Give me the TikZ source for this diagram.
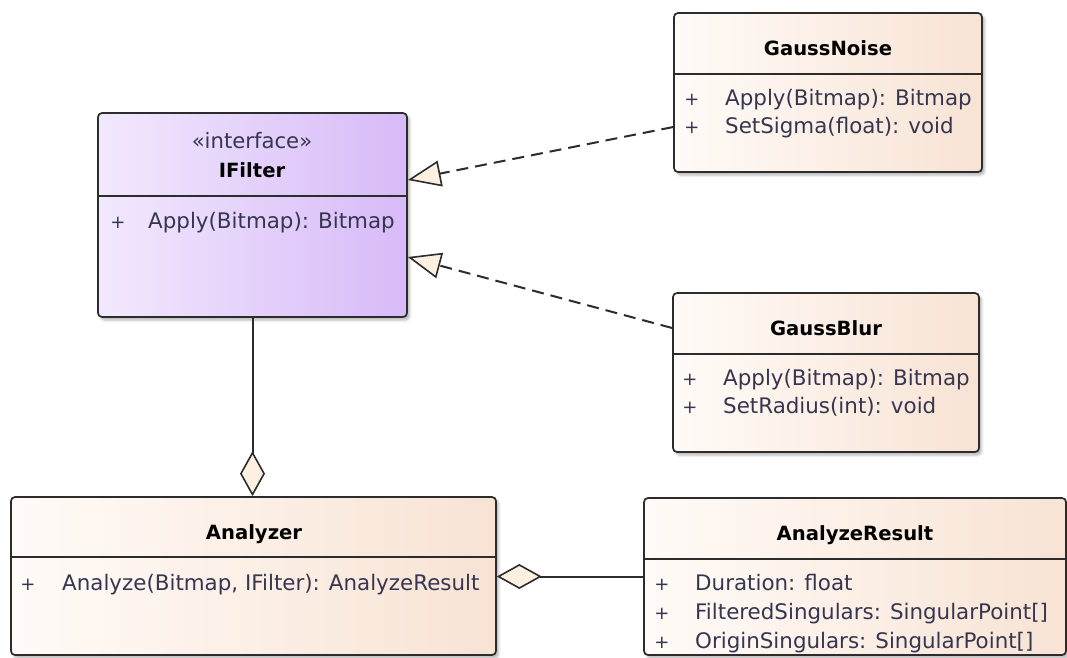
\documentclass[tikz,border=0pt]{standalone}
\usepackage{fontspec}
\setmainfont{DejaVu Sans}
\usetikzlibrary{arrows.meta,shadows.blur}

\definecolor{classL}{HTML}{FFFBF8}
\definecolor{classR}{HTML}{F8E3D4}
\definecolor{ifaceL}{HTML}{F2E9FD}
\definecolor{ifaceR}{HTML}{D7BAF8}
\definecolor{tipfill}{HTML}{FCF1E1}
\definecolor{edge}{HTML}{2C2C2C}
\definecolor{member}{HTML}{363650}

\tikzset{
  classbox/.style={draw=edge, line width=1.7pt, rounded corners=4pt, inner sep=0pt,
    left color=classL, right color=classR,
    blur shadow={shadow xshift=2.5pt, shadow yshift=-3pt, shadow blur radius=2.5pt, shadow opacity=30}},
  ifacebox/.style={classbox, left color=ifaceL, right color=ifaceR},
  divider/.style={draw=edge, line width=1.7pt},
  title/.style={anchor=base, inner sep=0pt, font=\fontsize{19.6}{23}\selectfont\bfseries, text=black},
  stereo/.style={anchor=base, inner sep=0pt, font=\fontsize{21.2}{25}\selectfont, text=member},
  member/.style={anchor=base west, inner sep=0pt, font=\fontsize{21.4}{25}\selectfont, text=member},
  vis/.style={anchor=base, inner sep=0pt, font=\fontsize{18}{22}\selectfont, text=member},
  realize/.style={draw=edge, line width=2pt, dash pattern=on 12pt off 7pt,
    -{Triangle[length=33pt, width=26pt, fill=tipfill, line width=1.6pt]}},
  aggr/.style={draw=edge, line width=2pt,
    -{Diamond[length=45pt, width=25pt, fill=tipfill, line width=1.6pt]}},
}

\begin{document}
\begin{tikzpicture}[x=1pt, y=-1pt]
\useasboundingbox (0,0) rectangle (1067,657);

% class frames
\node[ifacebox, minimum width=309pt, minimum height=204pt] (ifilter) at (252.5,215) {};
\node[classbox, minimum width=308pt, minimum height=159pt] (gaussnoise) at (828,92.5) {};
\node[classbox, minimum width=306pt, minimum height=159pt] (gaussblur) at (826,372.5) {};
\node[classbox, minimum width=485pt, minimum height=158pt] (analyzer) at (253.5,576) {};
\node[classbox, minimum width=422pt, minimum height=157pt] (analyzeresult) at (855,576.5) {};

% compartment separators
\draw[divider] ([yshift=-84pt]ifilter.north west) -- ([yshift=-84pt]ifilter.north east);
\draw[divider] ([yshift=-62pt]gaussnoise.north west) -- ([yshift=-62pt]gaussnoise.north east);
\draw[divider] ([yshift=-62pt]gaussblur.north west) -- ([yshift=-62pt]gaussblur.north east);
\draw[divider] ([yshift=-61pt]analyzer.north west) -- ([yshift=-61pt]analyzer.north east);
\draw[divider] ([yshift=-62pt]analyzeresult.north west) -- ([yshift=-62pt]analyzeresult.north east);

% IFilter
\node[stereo] (ifilter-st) at (252,148) {«interface»};
\node[title] (ifilter-name) at (252,177) {IFilter};
\node[vis] (ifilter-v1) at (118,228) {+};
\node[member] (ifilter-m1) at (148,228) {Apply(Bitmap): Bitmap};

% GaussNoise
\node[title] (gaussnoise-name) at (828,55) {GaussNoise};
\node[vis] (gaussnoise-v1) at (692,105) {+};
\node[member] (gaussnoise-m1) at (725,105) {Apply(Bitmap): Bitmap};
\node[vis] (gaussnoise-v2) at (692,133) {+};
\node[member] (gaussnoise-m2) at (725,133) {SetSigma(float): void};

% GaussBlur
\node[title] (gaussblur-name) at (826,335) {GaussBlur};
\node[vis] (gaussblur-v1) at (690,385) {+};
\node[member] (gaussblur-m1) at (723,385) {Apply(Bitmap): Bitmap};
\node[vis] (gaussblur-v2) at (690,413) {+};
\node[member] (gaussblur-m2) at (723,413) {SetRadius(int): void};

% Analyzer
\node[title] (analyzer-name) at (254,539) {Analyzer};
\node[vis] (analyzer-v1) at (28,590) {+};
\node[member] (analyzer-m1) at (62,590) {Analyze(Bitmap, IFilter): AnalyzeResult};

% AnalyzeResult
\node[title] (analyzeresult-name) at (855,540) {AnalyzeResult};
\node[vis] (analyzeresult-v1) at (662,590) {+};
\node[member] (analyzeresult-a1) at (695,590) {Duration: float};
\node[vis] (analyzeresult-v2) at (662,619) {+};
\node[member] (analyzeresult-a2) at (695,619) {FilteredSingulars: SingularPoint[]};
\node[vis] (analyzeresult-v3) at (662,648) {+};
\node[member] (analyzeresult-a3) at (695,648) {OriginSingulars: SingularPoint[]};

% realizations
\draw[realize] ([yshift=-34.5pt]gaussnoise.west) -- ([yshift=35pt]ifilter.east);
\draw[realize] ([yshift=44.5pt]gaussblur.west) -- ([yshift=-42pt]ifilter.east);

% aggregations
\draw[aggr] (ifilter.south) -- (ifilter.south |- analyzer.north);
\draw[aggr] (analyzeresult.west) -- (analyzer.east |- analyzeresult.west);
\end{tikzpicture}
\end{document}
